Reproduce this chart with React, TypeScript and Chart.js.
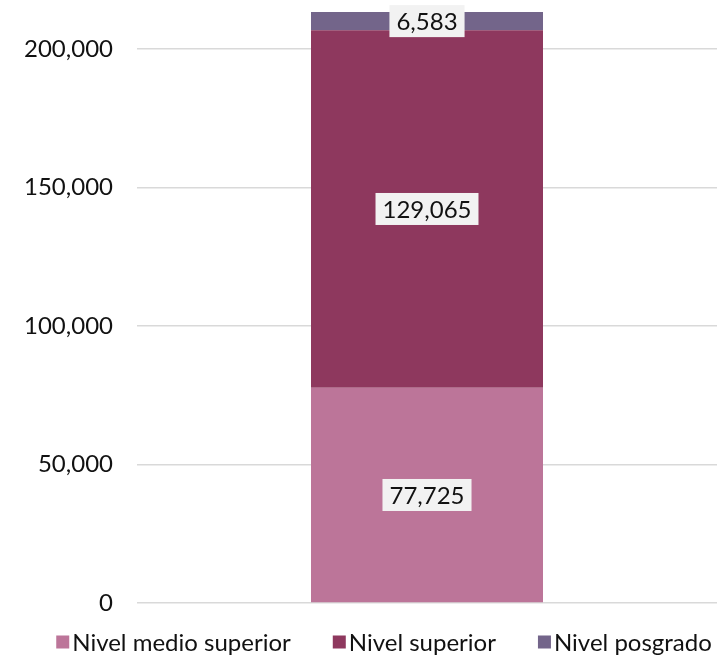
import React, { useEffect, useRef } from "react";
import { Chart, registerables } from "chart.js";

Chart.register(...registerables);

const categories = ["Total"];
const seriesNames = ["Nivel medio superior", "Nivel superior", "Nivel posgrado"];
const medioSuperior = [77725];
const superior = [129065];
const posgrado = [6583];
const seriesColors = ["#BC7599", "#8E385E", "#73658A"];
const yTicks = [0, 50000, 100000, 150000, 200000];

const FONT = "Lato, 'Open Sans', sans-serif";
const FONT_SIZE = 24;

const labelPlugin = {
  id: "segLabels",
  afterDatasetsDraw(chart: any) {
    const ctx = chart.ctx;
    ctx.save();
    ctx.font = `${FONT_SIZE}px ${FONT}`;
    ctx.textAlign = "center";
    ctx.textBaseline = "middle";
    chart.data.datasets.forEach((ds: any, i: number) => {
      const meta = chart.getDatasetMeta(i);
      meta.data.forEach((bar: any, j: number) => {
        const v = ds.data[j];
        const text = v.toLocaleString("en-US");
        const cx = bar.x;
        const cy = (bar.y + bar.base) / 2;
        const w = ctx.measureText(text).width + 14;
        const h = 32;
        ctx.fillStyle = "#F2F2F2";
        ctx.fillRect(cx - w / 2, cy - h / 2, w, h);
        ctx.fillStyle = "#111111";
        ctx.fillText(text, cx, cy + 1);
      });
    });
    ctx.restore();
  },
};

const legendPlugin = {
  id: "customLegend",
  afterDraw(chart: any) {
    const ctx = chart.ctx;
    ctx.save();
    ctx.font = `${FONT_SIZE}px ${FONT}`;
    ctx.textBaseline = "middle";
    ctx.textAlign = "left";
    const box = 13;
    const gap = 3;
    const spacing = 42;
    const items = chart.data.datasets.map((ds: any) => ({
      text: ds.label,
      color: ds.backgroundColor,
      w: box + gap + ctx.measureText(ds.label).width,
    }));
    const total = items.reduce((s: number, it: any) => s + it.w, 0) + spacing * (items.length - 1);
    let x = 384 - total / 2;
    const y = 642;
    items.forEach((it: any) => {
      ctx.fillStyle = it.color;
      ctx.fillRect(x, y - box / 2, box, box);
      ctx.fillStyle = "#111111";
      ctx.fillText(it.text, x + box + gap, y + 1);
      x += it.w + spacing;
    });
    ctx.restore();
  },
};

export default function App() {
  const ref = useRef<HTMLCanvasElement>(null);
  useEffect(() => {
    const total = medioSuperior[0] + superior[0] + posgrado[0];
    const data = [medioSuperior, superior, posgrado];
    const chart = new Chart(ref.current!, {
      type: "bar",
      data: {
        labels: categories,
        datasets: seriesNames.map((name, i) => ({
          label: name,
          data: data[i],
          backgroundColor: seriesColors[i],
          borderWidth: 0,
          barPercentage: 0.4,
          categoryPercentage: 1,
        })),
      },
      options: {
        animation: false,
        responsive: false,
        maintainAspectRatio: false,
        layout: { padding: { top: 12, left: 0, right: 0, bottom: 59 } },
        plugins: {
          legend: { display: false },
          tooltip: { enabled: false },
        },
        scales: {
          x: {
            stacked: true,
            display: false,
          },
          y: {
            stacked: true,
            min: 0,
            max: total,
            afterBuildTicks: (scale: any) => {
              scale.ticks = yTicks.map((v) => ({ value: v }));
            },
            afterFit: (scale: any) => {
              scale.width = 137;
              scale.paddingTop = 0;
              scale.paddingBottom = 0;
            },
            grid: { color: "#D9D9D9", lineWidth: 1.5, drawTicks: false },
            border: { display: false },
            ticks: {
              padding: 24,
              color: "#111111",
              font: { family: FONT, size: FONT_SIZE },
              callback: (v: any) => Number(v).toLocaleString("en-US"),
            },
          },
        },
      },
      plugins: [labelPlugin, legendPlugin],
    });
    return () => chart.destroy();
  }, []);
  return (
    <div style={{ position: "fixed", left: 0, top: 0, width: 717, height: 662, background: "#fff" }}>
      <canvas ref={ref} width={717} height={662} />
    </div>
  );
}
